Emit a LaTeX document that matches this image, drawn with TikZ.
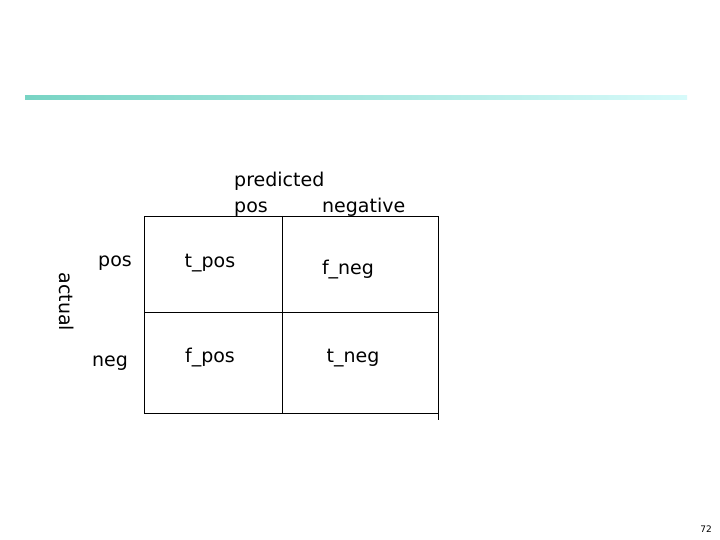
\documentclass[tikz,border=0pt]{standalone}
\usepackage{fontspec}
\setmainfont{DejaVu Sans}
\definecolor{lineA}{RGB}{120,212,196}
\definecolor{lineB}{RGB}{215,250,250}
\begin{document}
\begin{tikzpicture}[x=1pt,y=-1pt,
  lbl/.style={inner sep=0pt,font=\fontsize{19}{22}\selectfont},
  grid/.style={draw=black,line width=0.8pt}]
\useasboundingbox (0,0) rectangle (720,540);
\shade[left color=lineA,right color=lineB] (25,95.5) rectangle (687,99.5);
\coordinate (tl) at (144,216);
\coordinate (br) at (438,413);
\draw[grid] (tl) rectangle (br);
\coordinate (vt) at (282,216); \coordinate (vb) at (282,413);
\draw[grid] (vt) -- (vb);
\coordinate (hl) at (144,312); \coordinate (hr) at (438,312);
\draw[grid] (hl) -- (hr);
\coordinate (ext) at (438,420);
\draw[grid] (br) -- (ext);
\node[lbl,anchor=base west] (pred) at (234,187) {predicted};
\node[lbl,anchor=base west] (ppos) at (234,213) {pos};
\node[lbl,anchor=base west] (pneg) at (322,213) {negative};
\node[lbl,rotate=-90] (act) at (67,302) {actual};
\node[lbl] (rpos) at (115,263) {pos};
\node[lbl] (rneg) at (110,363) {neg};
\node[lbl] (tp) at (210,263) {t\_pos};
\node[lbl] (fn) at (348,270) {f\_neg};
\node[lbl] (fp) at (210,358) {f\_pos};
\node[lbl] (tn) at (353,358) {t\_neg};
\node[inner sep=0pt,font=\fontsize{9}{10}\selectfont] (pg) at (706,529) {72};
\end{tikzpicture}
\end{document}
